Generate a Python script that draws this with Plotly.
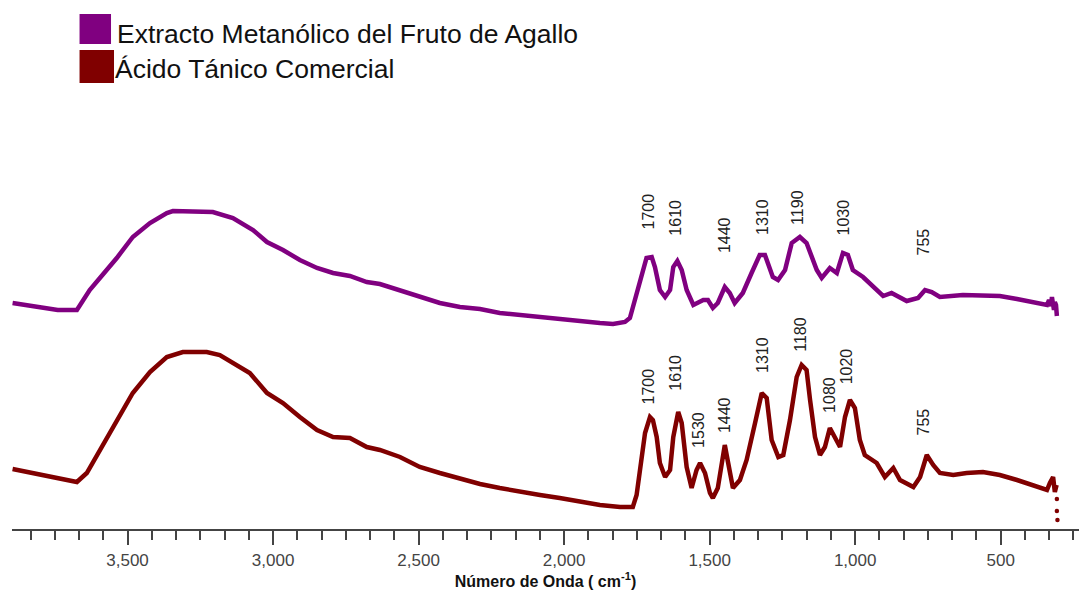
import plotly.graph_objects as go

# ---- Data ----
# Extracto Metanólico del Fruto de Agallo (upper spectrum), wavenumber cm-1 / intensity (a.u.)
extracto_wn = [3895, 3825, 3740, 3674, 3654, 3630, 3595, 3537, 3482, 3423, 3365, 3344, 3207, 3138,
               3069, 3021, 2966, 2908, 2849, 2794, 2736, 2678, 2633, 2564, 2496, 2427, 2358, 2289,
               2221, 2152, 2083, 2015, 1946, 1877, 1832, 1808, 1791, 1774, 1757, 1740, 1717, 1699,
               1688, 1671, 1653, 1636, 1625, 1611, 1596, 1579, 1556, 1522, 1506, 1489, 1472, 1448,
               1431, 1414, 1386, 1356, 1328, 1310, 1283, 1265, 1241, 1218, 1190, 1167, 1132, 1115,
               1087, 1063, 1042, 1025, 1008, 973, 939, 904, 875, 846, 823, 784, 760, 737, 709, 630,
               561, 503, 444, 375, 341, 334, 327, 324, 317, 314, 310, 307]
extracto_int = [226, 223, 219, 219, 228, 239, 251, 271, 292, 306, 316, 318, 317, 311,
                299, 287, 279, 269, 261, 256, 253, 247, 245, 239, 232, 226, 222, 220,
                216, 214, 212, 209, 207, 206, 205, 206, 207, 211, 229, 249, 271, 272,
                262, 239, 232, 239, 262, 268, 259, 239, 224, 229, 229, 221, 226, 242,
                236, 226, 236, 256, 274, 274, 252, 249, 259, 286, 292, 286, 259, 251,
                261, 256, 276, 274, 259, 252, 242, 233, 236, 231, 228, 231, 239, 237, 232, 234,
                234, 233, 230, 226, 224, 229, 223, 232, 219, 227, 224, 213]

# Ácido Tánico Comercial (lower spectrum)
tanico_wn = [3895, 3825, 3709, 3674, 3640, 3595, 3537, 3482, 3423, 3365, 3310, 3228, 3183, 3138,
             3080, 3021, 2966, 2908, 2849, 2794, 2736, 2678, 2633, 2564, 2496, 2427, 2358, 2289,
             2221, 2152, 2083, 2015, 1946, 1877, 1808, 1774, 1764, 1751, 1740, 1722, 1705, 1695,
             1682, 1671, 1653, 1636, 1625, 1608, 1596, 1579, 1562, 1545, 1533, 1516, 1499, 1489,
             1472, 1459, 1448, 1437, 1420, 1396, 1373, 1344, 1321, 1304, 1287, 1264, 1247, 1224,
             1201, 1184, 1167, 1155, 1138, 1121, 1104, 1087, 1064, 1052, 1035, 1018, 1001, 984,
             967, 926, 898, 869, 846, 800, 777, 754, 732, 709, 663, 617, 561, 503, 444, 389,
             341, 331, 320, 314, 308]
tanico_int = [60, 56, 49, 47, 56, 79, 109, 136, 157, 172, 177, 177, 174, 166,
              156, 136, 126, 112, 99, 92, 91, 82, 79, 72, 62, 56, 50, 45,
              41, 37, 34, 31, 27, 24, 22, 22, 22, 34, 56, 96, 112, 109,
              92, 66, 52, 59, 92, 117, 106, 62, 41, 59, 66, 56, 36, 31,
              41, 62, 84, 67, 41, 49, 69, 106, 136, 131, 89, 72, 74, 109,
              152, 164, 159, 129, 92, 74, 82, 101, 89, 82, 112, 129, 121, 89,
              74, 66, 52, 61, 49, 42, 52, 74, 64, 56, 54, 56, 57, 54, 49, 44,
              39, 46, 52, 37, 44]
tanico_tail_wn = [307, 307, 305]
tanico_tail_int = [30, 18, 9]

# Peak labels
extracto_peaks = [1700, 1610, 1440, 1310, 1190, 1030, 755]
extracto_peak_label_int = [318, 311, 294, 312, 322, 312, 287]
tanico_peaks = [1700, 1610, 1530, 1440, 1310, 1180, 1080, 1020, 755]
tanico_peak_label_int = [143, 156, 99, 114, 174, 195, 134, 163, 107]

series_names = ["Extracto Metanólico del Fruto de Agallo", "Ácido Tánico Comercial"]
series_colors = ["#800080", "#800000"]

x_range = [3897, 231]
y_range = [0, 529]

FONT = "Liberation Sans, Arial, sans-serif"

fig = go.Figure()
fig.add_trace(go.Scatter(x=extracto_wn, y=extracto_int, mode="lines",
                         line=dict(color=series_colors[0], width=4.5),
                         name=series_names[0], showlegend=False))
fig.add_trace(go.Scatter(x=tanico_wn, y=tanico_int, mode="lines",
                         line=dict(color=series_colors[1], width=4.5),
                         name=series_names[1], showlegend=False))
fig.add_trace(go.Scatter(x=tanico_tail_wn, y=tanico_tail_int, mode="markers",
                         marker=dict(color=series_colors[1], size=4.5),
                         name=series_names[1], showlegend=False))

annotations = []
for wn, yv in zip(extracto_peaks, extracto_peak_label_int):
    annotations.append(dict(x=wn, y=yv, xref="x", yref="y", text=str(wn), showarrow=False,
                            textangle=-90, xshift=-3, font=dict(family=FONT, size=16, color="#222")))
for wn, yv in zip(tanico_peaks, tanico_peak_label_int):
    annotations.append(dict(x=wn, y=yv, xref="x", yref="y", text=str(wn), showarrow=False,
                            textangle=-90, xshift=-3, font=dict(family=FONT, size=16, color="#222")))

# Manual legend (large colour squares + text)
legend_rows = [
    dict(x0=0.0633, x1=0.0928, y0=0.9168, y1=0.9735, tx=0.0968, ty=0.9357),
    dict(x0=0.0633, x1=0.0956, y0=0.8431, y1=0.9055, tx=0.0950, ty=0.8696),
]
shapes = []
for row, name, col in zip(legend_rows, series_names, series_colors):
    shapes.append(dict(type="rect", xref="paper", yref="paper", x0=row["x0"], x1=row["x1"],
                       y0=row["y0"], y1=row["y1"], fillcolor=col, line=dict(width=0)))
    annotations.append(dict(x=row["tx"], y=row["ty"], xref="paper", yref="paper", text=name,
                            showarrow=False, xanchor="left", yanchor="middle",
                            font=dict(family=FONT, size=26.5, color="#111")))

fig.update_layout(
    width=1079, height=591,
    margin=dict(l=12, r=0, t=0, b=62),
    paper_bgcolor="white", plot_bgcolor="white",
    annotations=annotations, shapes=shapes,
    showlegend=False,
    xaxis=dict(
        range=x_range, showgrid=False, zeroline=False,
        showline=True, linecolor="#444", linewidth=2,
        ticks="outside", ticklen=14, tickwidth=1.5, tickcolor="#444",
        tick0=0, dtick=500, tickformat=",d",
        tickfont=dict(family=FONT, size=17, color="#444"),
        ticklabelstandoff=1,
        minor=dict(ticks="outside", ticklen=9, tickwidth=1.5, tickcolor="#444",
                   tick0=500, dtick=500 / 6),
        title=dict(text="<b>Número de Onda ( cm<sup>-1</sup>)</b>", standoff=4,
                   font=dict(family=FONT, size=16, color="#111")),
    ),
    yaxis=dict(range=y_range, visible=False),
)

fig.write_html("out.html")
